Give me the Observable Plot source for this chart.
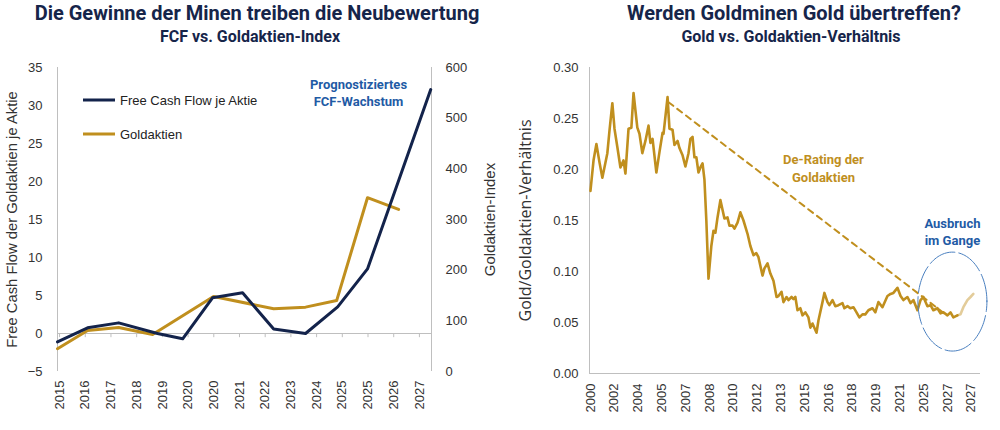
<!DOCTYPE html>
<html><head><meta charset="utf-8">
<script src="https://cdn.jsdelivr.net/npm/d3@7"></script>
<script src="https://cdn.jsdelivr.net/npm/@observablehq/plot@0.6"></script>
<style>
body{margin:0;width:1000px;height:430px;background:#fff;position:relative;overflow:hidden;font-family:"Liberation Sans",Arial,sans-serif;}
.t{position:absolute;font-family:Roboto,sans-serif;font-weight:700;color:#16254a;white-space:nowrap;transform:translateX(-50%);line-height:1;}
.h1{font-size:20px;top:3px;}
.h2{font-size:16px;top:29px;}
.panel{position:absolute;top:55px;width:500px;height:375px;}
.leg{position:absolute;left:83px;font-size:13px;color:#222;display:flex;align-items:center;transform:translateY(-50%);}
.leg span.sw{display:inline-block;width:32px;height:3px;margin-right:5px;}
</style></head><body>
<div class="t h1" style="left:257px">Die Gewinne der Minen treiben die Neubewertung</div>
<div class="t h2" style="left:250px">FCF vs. Goldaktien-Index</div>
<div class="t h1" style="left:794px">Werden Goldminen Gold übertreffen?</div>
<div class="t h2" style="left:791px">Gold vs. Goldaktien-Verhältnis</div>
<div id="left" class="panel" style="left:0"></div>
<div id="right" class="panel" style="left:500px"></div>
<div class="leg" style="top:100px"><span class="sw" style="background:#13234b"></span>Free Cash Flow je Aktie</div>
<div class="leg" style="top:134px"><span class="sw" style="background:#c08f1e"></span>Goldaktien</div>
<script>
// ---------- Left chart data ----------
const fcfLabels = ["2015","2016","2017","2018","2019","2020","2020","2021","2022","2023","2024","2025","2025","2026","2027"];
const fcfPos = [-0.08, 1.09, 2.30, 3.81, 4.79, 5.95, 7.12, 8.33, 9.57, 10.82, 11.98, 14.44];
const fcfVal = [-1.1, 0.75, 1.4, 0.0, -0.7, 4.7, 5.35, 0.6, 0.0, 3.5, 8.5, 32.1];
const idxPos = [-0.08, 1.09, 2.30, 3.62, 5.99, 8.33, 9.57, 10.78, 11.98, 13.19];
const idxVal = [45, 81, 87, 73, 148, 124, 127, 140, 343, 320];
const leftTicks = [-5, 0, 5, 10, 15, 20, 25, 30, 35];
const rightTicks = [0, 100, 200, 300, 400, 500, 600];

// ---------- Right chart data ----------
const ratioLabels = ["2000","2002","2004","2005","2007","2008","2010","2012","2013","2015","2016","2018","2019","2021","2025","2027","2027"];
const ratioPos = [0.00,0.13,0.25,0.38,0.50,0.71,0.80,0.92,1.01,1.13,1.26,1.39,1.47,1.60,1.72,1.81,1.97,2.06,2.18,2.31,2.44,2.52,2.61,2.77,2.90,3.03,3.07,3.24,3.32,3.45,3.53,3.66,3.74,3.87,3.99,4.12,4.20,4.29,4.37,4.45,4.54,4.62,4.71,4.79,4.87,4.96,5.08,5.17,5.25,5.34,5.46,5.63,5.76,5.84,5.97,6.05,6.18,6.30,6.43,6.60,6.72,6.85,6.97,7.06,7.23,7.31,7.44,7.56,7.69,7.82,7.90,8.03,8.11,8.24,8.32,8.45,8.53,8.61,8.70,8.82,8.91,9.03,9.16,9.24,9.33,9.50,9.58,9.75,9.83,9.96,10.04,10.17,10.29,10.42,10.59,10.67,10.80,10.92,11.05,11.18,11.30,11.43,11.55,11.68,11.85,11.97,12.10,12.27,12.48,12.61,12.73,12.90,13.03,13.15,13.32,13.45,13.57,13.74,13.87,13.99,14.16,14.29,14.41,14.58,14.71,14.83,15.00,15.13,15.25,15.42];
const ratioVal = [0.179,0.209,0.225,0.207,0.192,0.216,0.238,0.265,0.240,0.222,0.202,0.209,0.196,0.240,0.241,0.275,0.241,0.235,0.216,0.228,0.243,0.226,0.230,0.197,0.217,0.236,0.235,0.271,0.240,0.239,0.224,0.228,0.221,0.214,0.203,0.216,0.230,0.232,0.212,0.212,0.197,0.202,0.206,0.190,0.150,0.093,0.125,0.140,0.138,0.153,0.170,0.152,0.153,0.145,0.145,0.142,0.148,0.158,0.150,0.137,0.125,0.116,0.118,0.114,0.096,0.103,0.108,0.098,0.091,0.075,0.076,0.080,0.070,0.075,0.072,0.075,0.073,0.075,0.062,0.064,0.057,0.060,0.055,0.045,0.049,0.040,0.052,0.070,0.079,0.070,0.067,0.072,0.066,0.067,0.069,0.064,0.066,0.064,0.065,0.060,0.055,0.058,0.058,0.062,0.064,0.060,0.070,0.065,0.076,0.078,0.079,0.084,0.076,0.072,0.075,0.069,0.072,0.062,0.072,0.075,0.066,0.067,0.062,0.064,0.059,0.060,0.057,0.060,0.055,0.057];
const projPos = [15.42, 15.55, 15.67, 15.84, 15.97, 16.09];
const projVal = [0.057, 0.058, 0.065, 0.072, 0.075, 0.078];
const trendPos = [3.28, 14.92];
const trendVal = [0.266, 0.058];
const ratioTicks = [0, 0.05, 0.10, 0.15, 0.20, 0.25, 0.30];

// ---------- Styles ----------
const NAVY = "#13234b", GOLD = "#c08f1e", BLUE = "#1f5ba5", AXIS = "#bfbfbf";
const tickFont = {fontFamily: "Liberation Sans, Arial, sans-serif", fontSize: "13px", color: "#333", background: "transparent", overflow: "visible"};

// ---------- Left chart ----------
const lMin = -5, lMax = 35, rMax = 600;
const toLeft = v => lMin + v / rMax * (lMax - lMin);
const fromLeft = d => Math.round((d - lMin) / (lMax - lMin) * rMax);
const fcf = fcfPos.map((p, i) => ({p, v: fcfVal[i]}));
const idx = idxPos.map((p, i) => ({p, v: idxVal[i]}));
const xl = [-0.08, 14.47];

const left = Plot.plot({
  width: 500, height: 375, marginTop: 12, marginBottom: 59, marginLeft: 57, marginRight: 69,
  style: tickFont,
  x: {type: "linear", domain: xl},
  y: {domain: [lMin, lMax]},
  marks: [
    Plot.ruleX(xl, {stroke: AXIS}),
    Plot.ruleY([0], {stroke: AXIS}),
    Plot.ruleX(d3.range(fcfLabels.length), {x: d => d, y1: 0, y2: -0.55, stroke: AXIS}),
    Plot.axisX(d3.range(fcfLabels.length), {tickFormat: d => fcfLabels[d], tickRotate: -90, tickSize: 0, tickPadding: 9, label: null}),
    Plot.axisY(leftTicks, {anchor: "left", tickSize: 0, tickPadding: 15, label: null}),
    Plot.axisY(leftTicks, {anchor: "left", tickSize: 0, tickFormat: () => "", label: "Free Cash Flow der Goldaktien je Aktie", labelAnchor: "center", labelArrow: "none", labelOffset: 51, fontSize: 14.8}),
    Plot.axisY(rightTicks.map(toLeft), {anchor: "right", tickSize: 0, tickPadding: 14, tickFormat: fromLeft, label: null}),
    Plot.axisY(rightTicks.map(toLeft), {anchor: "right", tickSize: 0, tickFormat: () => "", label: "Goldaktien-Index", labelAnchor: "center", labelArrow: "none", labelOffset: 63, fontSize: 15}),
    Plot.line(idx, {x: "p", y: d => toLeft(d.v), stroke: GOLD, strokeWidth: 3}),
    Plot.line(fcf, {x: "p", y: "v", stroke: NAVY, strokeWidth: 3}),
    Plot.text(["Prognostiziertes\nFCF-Wachstum"], {x: 11.63, y: 31.8, text: d => d, fill: BLUE, fontWeight: "bold", fontSize: 13, fontFamily: "Roboto, sans-serif", lineHeight: 1.35})
  ]
});
document.getElementById("left").append(left);

// ---------- Right chart ----------
const ratio = ratioPos.map((p, i) => ({p, v: ratioVal[i]}));
const proj = projPos.map((p, i) => ({p, v: projVal[i]}));
const trend = trendPos.map((p, i) => ({p, v: trendVal[i]}));
const ell = d3.range(0, 2 * Math.PI + 0.05, 0.05).map(t => ({p: 15.21 + 1.45 * Math.cos(t), v: 0.0705 + 0.0485 * Math.sin(t)}));
const xr = [-0.04, 16.39];

const right = Plot.plot({
  width: 500, height: 375, marginTop: 12, marginBottom: 57, marginLeft: 89, marginRight: 20,
  style: tickFont,
  x: {type: "linear", domain: xr},
  y: {domain: [0, 0.30]},
  marks: [
    Plot.ruleX([xr[0]], {stroke: AXIS}),
    Plot.ruleY([0], {stroke: AXIS}),
    Plot.axisX(d3.range(ratioLabels.length), {tickFormat: d => ratioLabels[d], tickRotate: -90, tickSize: 0, tickPadding: 10, label: null}),
    Plot.axisY(ratioTicks, {tickFormat: d3.format(".2f"), tickSize: 0, tickPadding: 11, label: null}),
    Plot.axisY(ratioTicks, {tickSize: 0, tickFormat: () => "", label: "Gold/Goldaktien-Verhältnis", labelAnchor: "center", labelArrow: "none", labelOffset: 70, fontFamily: "Open Sans, sans-serif", fontSize: 16}),
    Plot.line(trend, {x: "p", y: "v", stroke: GOLD, strokeWidth: 2, strokeDasharray: "6,5"}),
    Plot.line(ratio, {x: "p", y: "v", stroke: GOLD, strokeWidth: 2.6}),
    Plot.line(proj, {x: "p", y: "v", stroke: GOLD, strokeWidth: 2.6, strokeOpacity: 0.45}),
    Plot.line(ell, {x: "p", y: "v", stroke: "#4a80c0", strokeWidth: 1, strokeDasharray: "28,4"}),
    Plot.text(["De-Rating der\nGoldaktien"], {x: 9.79, y: 0.202, text: d => d, fill: GOLD, fontWeight: "bold", fontSize: 13, fontFamily: "Roboto, sans-serif", lineHeight: 1.35}),
    Plot.text(["Ausbruch\nim Gange"], {x: 15.21, y: 0.140, text: d => d, fill: BLUE, fontWeight: "bold", fontSize: 13, fontFamily: "Roboto, sans-serif", lineHeight: 1.35})
  ]
});
document.getElementById("right").append(right);
</script>
</body></html>
